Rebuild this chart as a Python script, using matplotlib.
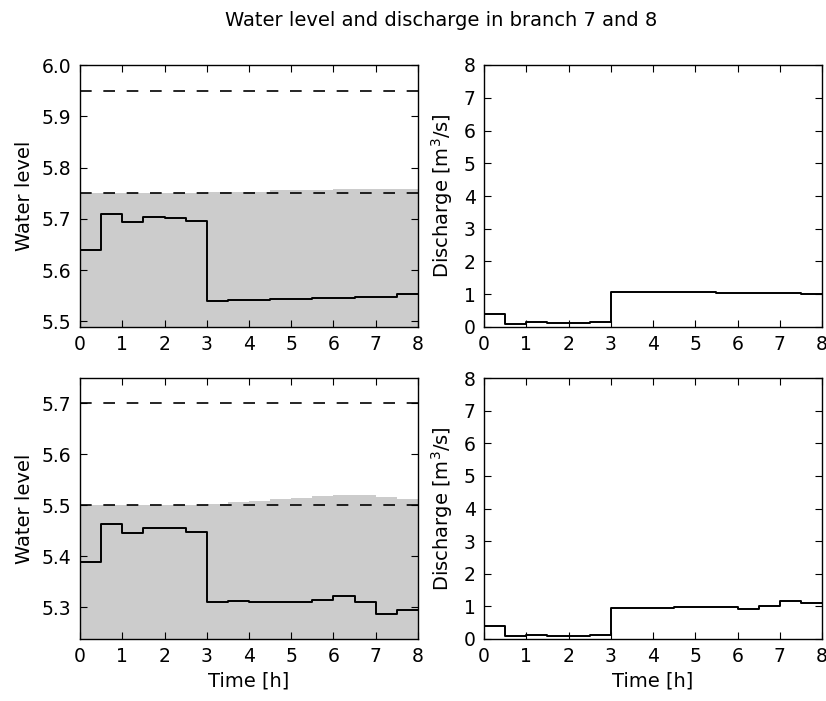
import numpy as np
import matplotlib.pyplot as plt

# time grid, half-hour steps (16 intervals)
t = np.arange(0, 8.5, 0.5)

# branch 7
level7 = [5.640, 5.710, 5.694, 5.704, 5.701, 5.696, 5.539, 5.542,
          5.542, 5.544, 5.544, 5.546, 5.546, 5.548, 5.548, 5.554]
upper7 = [5.750, 5.750, 5.750, 5.750, 5.750, 5.750, 5.752, 5.752,
          5.752, 5.756, 5.756, 5.756, 5.759, 5.759, 5.759, 5.759]
q7 = [0.41, 0.08, 0.16, 0.11, 0.11, 0.16, 1.08, 1.08,
      1.08, 1.08, 1.08, 1.04, 1.04, 1.04, 1.04, 1.00]
hmin7, hmax7 = 5.75, 5.95

# branch 8
level8 = [5.389, 5.463, 5.446, 5.455, 5.455, 5.448, 5.310, 5.313,
          5.310, 5.310, 5.310, 5.314, 5.322, 5.310, 5.288, 5.294]
upper8 = [5.500, 5.500, 5.500, 5.500, 5.500, 5.500, 5.503, 5.506,
          5.509, 5.513, 5.514, 5.518, 5.520, 5.520, 5.516, 5.513]
q8 = [0.39, 0.09, 0.13, 0.09, 0.09, 0.13, 0.94, 0.94,
      0.94, 0.97, 0.97, 0.97, 0.93, 1.01, 1.17, 1.09]
hmin8, hmax8 = 5.50, 5.70


def ext(v):
    return list(v) + [v[-1]]


def style(ax):
    ax.tick_params(direction='in', top=True, right=True, length=5,
                   width=0.8, labelsize=13.5, pad=6)
    for s in ax.spines.values():
        s.set_linewidth(1.0)
    ax.set_xlim(0, 8)
    ax.set_xticks(range(9))


fig = plt.figure(figsize=(8.26, 7.01), dpi=100)
W, H = 826, 701


def add(x0, y0, x1, y1):
    return fig.add_axes([x0 / W, 1 - y1 / H, (x1 - x0) / W, (y1 - y0) / H])


rows = [(65, 327, level7, upper7, q7, hmin7, hmax7),
        (378, 639, level8, upper8, q8, hmin8, hmax8)]

for i, (y0, y1, lev, up, q, hmin, hmax) in enumerate(rows):
    ax = add(80, y0, 418, y1)
    ymin = min(lev) - 0.05
    ymax = hmax + 0.05
    ax.fill_between(t, ymin, ext(up), step='post', color='0.8', lw=0)
    ax.step(t, ext(lev), where='post', color='k', lw=1.4)
    for h in (hmin, hmax):
        ax.axhline(h, color='k', lw=1.2, ls=(0, (7, 7)))
    ax.set_ylim(ymin, ymax)
    ax.set_yticks(np.arange(np.ceil(ymin * 10) / 10, ymax + 1e-6, 0.1))
    ax.yaxis.set_major_formatter(plt.FormatStrFormatter('%.1f'))
    style(ax)
    ax.set_ylabel('Water level', fontsize=14, labelpad=6)
    if i == 1:
        ax.set_xlabel('Time [h]', fontsize=14)

    ax2 = add(484, y0, 822, y1)
    ax2.step(t, ext(q), where='post', color='k', lw=1.4)
    ax2.set_ylim(0, 8)
    ax2.set_yticks(range(9))
    style(ax2)
    ax2.set_ylabel('Discharge [m$^3$/s]', fontsize=14, labelpad=6)
    if i == 1:
        ax2.set_xlabel('Time [h]', fontsize=14)

fig.suptitle('Water level and discharge in branch 7 and 8', fontsize=14,
             x=0.534, y=0.985)

fig.savefig('out.png', dpi=100)
